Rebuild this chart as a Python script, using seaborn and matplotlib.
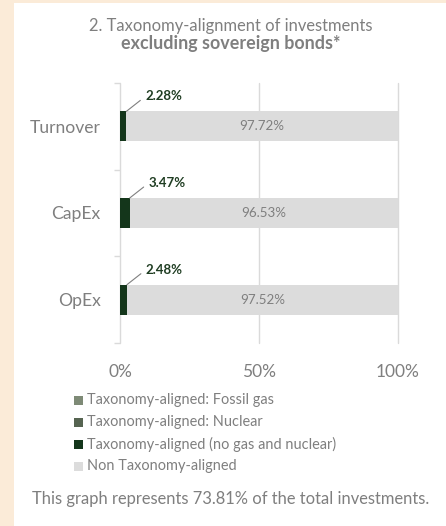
import matplotlib
matplotlib.use('Agg')
import matplotlib.pyplot as plt
import seaborn as sns
import pandas as pd
from matplotlib.patches import Rectangle

# ---------------- data ----------------
categories = ['Turnover', 'CapEx', 'OpEx']
fossil_gas = [0.0, 0.0, 0.0]
nuclear = [0.0, 0.0, 0.0]
aligned = [2.28, 3.47, 2.48]
non_aligned = [97.72, 96.53, 97.52]
aligned_labels = ['2.28%', '3.47%', '2.48%']
non_aligned_labels = ['97.72%', '96.53%', '97.52%']
x_ticks = [0, 50, 100]
x_tick_labels = ['0%', '50%', '100%']
legend_labels = ['Taxonomy-aligned: Fossil gas',
                 'Taxonomy-aligned: Nuclear',
                 'Taxonomy-aligned (no gas and nuclear)',
                 'Non Taxonomy-aligned']
title_line1 = '2. Taxonomy-alignment of investments'
title_line2 = 'excluding sovereign bonds*'
footer = 'This graph represents 73.81% of the total investments.'

# ---------------- style ----------------
C_FOSSIL = '#7E8A76'
C_NUCLEAR = '#566451'
C_ALIGNED = '#14361B'
C_NON = '#DCDCDC'
C_TEXT = '#7F7F7F'
C_LABEL = '#1F3D22'
C_GRID = '#DADADA'
legend_colors = [C_FOSSIL, C_NUCLEAR, C_ALIGNED, C_NON]

W, H = 446, 526
sns.set_theme(style='white')
FAM = ['Lato', 'DejaVu Sans']
plt.rcParams['font.family'] = FAM

fig = plt.figure(figsize=(W / 100, H / 100), dpi=100)
fig.patch.set_facecolor('#FBEBD8')
fig.patches.append(Rectangle((14 / W, 0), 1 - 14 / W, 1 - 3 / H,
                             transform=fig.transFigure, facecolor='white',
                             edgecolor='none', zorder=-10))


def fx(px):
    return px / W


def fy(py):
    return 1 - py / H


renderer = fig.canvas.get_renderer()


def fit_size(text, target_px, weight='normal'):
    probe = fig.text(0, 0, text, fontsize=10, fontweight=weight)
    w = probe.get_window_extent(renderer).width
    probe.remove()
    return 10 * target_px / w


fs_cat = fit_size('Turnover', 71)
fs_xt = fit_size('100%', 44)
fs_non = fit_size('97.72%', 45)
fs_al = fit_size('2.28%', 37, 'bold')
fs_t1 = fit_size(title_line1, 284)
fs_t2 = fit_size(title_line2, 219, 'bold')
fs_leg = fit_size(legend_labels[2], 248)
fs_foot = fit_size(footer, 398)

ax = fig.add_axes([fx(120), fy(343), fx(398) - fx(120), (343 - 83) / H])
ax.set_facecolor('none')
ax.set_zorder(1)

df = pd.DataFrame({'category': categories,
                   'fossil': fossil_gas, 'nuclear': nuclear,
                   'aligned': aligned, 'non': non_aligned})
df['c_fossil'] = df['fossil']
df['c_nuclear'] = df['c_fossil'] + df['nuclear']
df['c_aligned'] = df['c_nuclear'] + df['aligned']
df['c_non'] = df['c_aligned'] + df['non']

BW = 0.345
for col, color in [('c_non', C_NON), ('c_aligned', C_ALIGNED),
                   ('c_nuclear', C_NUCLEAR), ('c_fossil', C_FOSSIL)]:
    sns.barplot(data=df, x=col, y='category', orient='h', color=color,
                saturation=1, width=BW, linewidth=0, ax=ax, zorder=3)

ax.set_xlim(0, 100)
ax.set_ylim(2.5, -0.5)
ax.set_xlabel('')
ax.set_ylabel('')
for s in ax.spines.values():
    s.set_visible(False)
ax.set_xticks(x_ticks)
ax.set_xticklabels(x_tick_labels, fontsize=fs_xt, color=C_TEXT)
ax.tick_params(axis='x', length=0, pad=15)
ax.set_yticks(range(len(categories)))
ax.set_yticklabels(categories, fontsize=fs_cat, color=C_TEXT)
ax.set_yticks([-0.5, 0.5, 1.5, 2.5], minor=True)
ax.tick_params(axis='y', which='major', length=0, pad=14)
ax.tick_params(axis='y', which='minor', length=4, width=1.0, color=C_GRID,
               direction='out', left=True)
ax.grid(axis='x', color=C_GRID, linewidth=1.0, zorder=1)
ax.grid(axis='y', visible=False)
ax.set_axisbelow(True)
for gl in ax.get_xgridlines():
    gl.set_clip_on(False)

for i in range(len(categories)):
    ax.text(df['c_aligned'][i] + df['non'][i] / 2, i, non_aligned_labels[i],
            ha='center', va='center', fontsize=fs_non, color=C_TEXT, zorder=5)
    top = i - BW / 2
    ax.annotate('', xy=(df['c_aligned'][i], top), xytext=(14, 11),
                textcoords='offset pixels',
                arrowprops=dict(arrowstyle='-', color='#7F7F7F', lw=0.8,
                                shrinkA=0, shrinkB=0), zorder=5)
    ax.annotate(aligned_labels[i], xy=(df['c_aligned'][i], top),
                xytext=(19, 15), textcoords='offset pixels', ha='left',
                va='center', fontsize=fs_al, fontweight='bold',
                color=C_LABEL, zorder=5)

# title
fig.text(fx(231), fy(26), title_line1, ha='center', va='center',
         fontsize=fs_t1, color=C_TEXT)
fig.text(fx(231), fy(43), title_line2, ha='center', va='center',
         fontsize=fs_t2, fontweight='bold', color=C_TEXT)

# legend
rows_y = [400, 422, 444, 466]
for lab, col, yy in zip(legend_labels, legend_colors, rows_y):
    fig.patches.append(Rectangle((fx(74), fy(yy + 4.5)), 9 / W, 9 / H,
                                 transform=fig.transFigure, facecolor=col,
                                 edgecolor='none', zorder=2))
    fig.text(fx(87), fy(yy), lab, ha='left', va='center', fontsize=fs_leg,
             color=C_TEXT)

fig.text(fx(231), fy(499), footer, ha='center', va='center',
         fontsize=fs_foot, color=C_TEXT)

fig.savefig('out.png', dpi=100, facecolor=fig.get_facecolor())
